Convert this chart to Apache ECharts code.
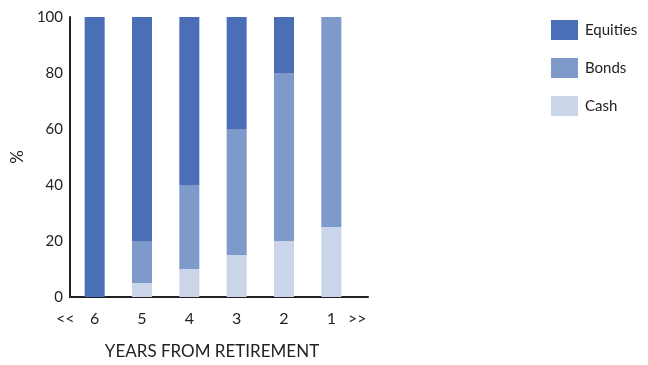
<!DOCTYPE html>
<html>
<head>
<meta charset="utf-8">
<script src="https://cdn.jsdelivr.net/npm/echarts@6/dist/echarts.min.js"></script>
<style>
  html, body { margin: 0; padding: 0; background: #fff; }
  #chart { width: 648px; height: 365px; }
</style>
</head>
<body>
<div id="chart"></div>
<script>
// years from retirement, left to right
const years = ['6', '5', '4', '3', '2', '1'];
const cash     = [0, 5, 10, 15, 20, 25];
const bonds    = [0, 15, 30, 45, 60, 75];
const equities = [100, 80, 60, 40, 20, 0];

const font = 'Lato, "DejaVu Sans", sans-serif';
const ink = '#222';

const chart = echarts.init(document.getElementById('chart'));

chart.setOption({
  animation: false,
  textStyle: { fontFamily: font },
  // grid 0 carries the frame (axis lines run a bit past the last bar),
  // grid 1 carries the bars on a category axis
  grid: [
    { left: 70, top: 17, right: 280, bottom: 68, containLabel: false },
    { left: 71, top: 17, right: 293, bottom: 68, containLabel: false }
  ],
  legend: {
    orient: 'vertical',
    left: 546,
    top: 15,
    itemWidth: 27,
    itemHeight: 20,
    itemGap: 18,
    icon: 'rect',
    data: ['Equities', 'Bonds', 'Cash'],
    textStyle: { fontFamily: font, fontSize: 15, color: ink, padding: [0, 0, 0, 2] }
  },
  xAxis: [
    {
      gridIndex: 0,
      type: 'value',
      min: 0,
      max: 1,
      name: 'YEARS FROM RETIREMENT',
      nameLocation: 'middle',
      nameGap: 46,
      nameTextStyle: { fontFamily: font, fontSize: 17, color: ink, padding: [0, 14, 0, 0] },
      axisLine: { show: true, onZero: false, lineStyle: { color: ink, width: 2 } },
      axisTick: { show: false },
      axisLabel: { show: false },
      splitLine: { show: false }
    },
    {
      gridIndex: 1,
      type: 'category',
      data: years,
      axisLine: { show: false },
      axisTick: { show: false },
      axisLabel: { margin: 14, fontFamily: font, fontSize: 16, color: ink }
    }
  ],
  yAxis: [
    {
      gridIndex: 0,
      type: 'value',
      min: 0,
      max: 100,
      interval: 20,
      name: '%',
      nameLocation: 'middle',
      nameRotate: 90,
      nameGap: 44,
      nameTextStyle: { fontFamily: font, fontSize: 17, color: ink },
      axisLine: { show: true, lineStyle: { color: ink, width: 2 } },
      axisTick: { show: false },
      splitLine: { show: false },
      axisLabel: { margin: 7, fontFamily: font, fontSize: 15, color: ink }
    },
    {
      gridIndex: 1,
      type: 'value',
      min: 0,
      max: 100,
      show: false
    }
  ],
  series: [
    { name: 'Cash', type: 'bar', stack: 'mix', barWidth: 20, xAxisIndex: 1, yAxisIndex: 1,
      data: cash, itemStyle: { color: '#cad5e9' } },
    { name: 'Bonds', type: 'bar', stack: 'mix', barWidth: 20, xAxisIndex: 1, yAxisIndex: 1,
      data: bonds, itemStyle: { color: '#7e9acb' } },
    { name: 'Equities', type: 'bar', stack: 'mix', barWidth: 20, xAxisIndex: 1, yAxisIndex: 1,
      data: equities, itemStyle: { color: '#4a6fb6' } }
  ],
  graphic: [
    { type: 'text', left: 56, top: 311, style: { text: '<<', font: '16px ' + font, fill: ink } },
    { type: 'text', left: 348, top: 311, style: { text: '>>', font: '16px ' + font, fill: ink } }
  ]
});
</script>
</body>
</html>
